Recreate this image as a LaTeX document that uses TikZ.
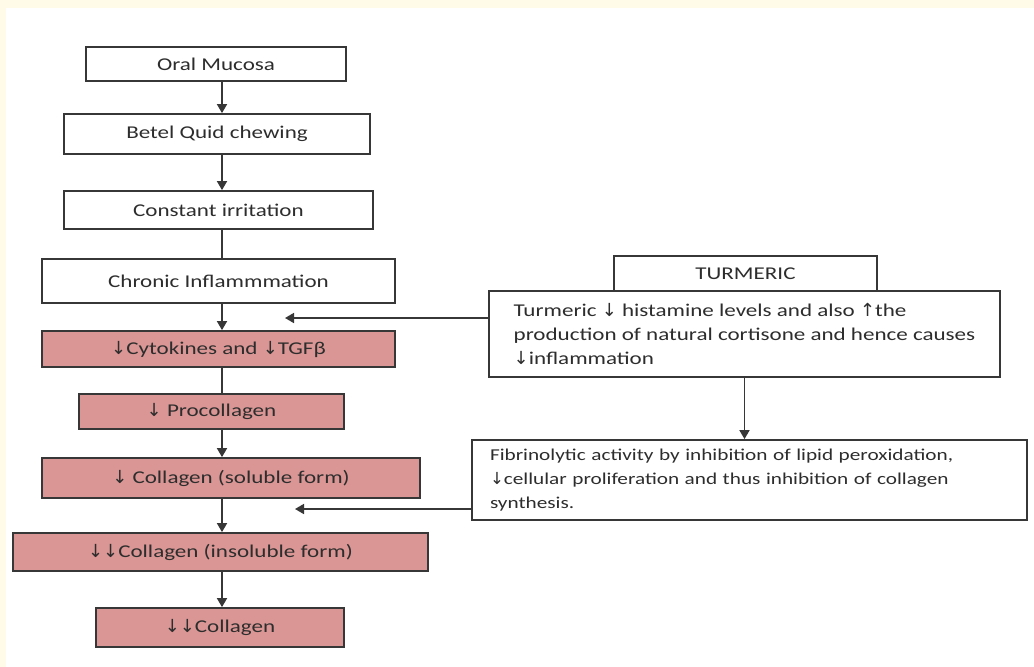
\documentclass[tikz,border=0pt]{standalone}
\usepackage{fontspec}
\setmainfont{Carlito}[FakeStretch=1.28]
\newfontfamily\symf{DejaVu Sans}
\usetikzlibrary{arrows.meta}
\newcommand\dn{{\symf ↓}}
\newcommand\up{{\symf ↑}}
\definecolor{paper}{RGB}{255,251,232}
\definecolor{linec}{RGB}{55,55,55}
\definecolor{textc}{RGB}{45,45,45}
\definecolor{pinkc}{RGB}{217,150,148}
\tikzset{
  box/.style={draw=linec, line width=1.8pt, fill=white, inner sep=0pt,
    text=textc, font=\fontsize{18}{24}\selectfont},
  pinkbox/.style={box, fill=pinkc},
  flow/.style={draw=linec, line width=1.7pt},
  arr/.style={flow, -{Triangle[width=10pt,length=9pt]}}
}
\begin{document}
\begin{tikzpicture}[x=1pt,y=-1pt]
  % page background with white drawing area
  \fill[paper] (0,0) rectangle (1034,667);
  \fill[white] (6,8) rectangle (1034,667);
  \useasboundingbox (0,0) rectangle (1034,667);

  % left column
  \node[box, minimum width=260pt, minimum height=34pt] (oral) at (216,64) {Oral Mucosa};
  \node[box, minimum width=306pt, minimum height=40pt] (betel) at (217,134) {Betel Quid chewing};
  \node[box, minimum width=309pt, minimum height=38pt] (const) at (218.5,210) {Constant irritation};
  \node[box, minimum width=353pt, minimum height=44pt] (chron) at (218.5,281) {Chronic Inflammmation};
  \node[pinkbox, minimum width=353pt, minimum height=36pt] (cyto) at (218.5,349) {\dn Cytokines and \dn TGFβ};
  \node[pinkbox, minimum width=265pt, minimum height=35pt] (proc) at (211.5,411.5) {\dn\ Procollagen};
  \node[pinkbox, minimum width=378pt, minimum height=40pt] (sol) at (231,478) {\dn\ Collagen (soluble form)};
  \node[pinkbox, minimum width=415pt, minimum height=38pt] (insol) at (220.5,552) {\dn\dn Collagen (insoluble form)};
  \node[pinkbox, minimum width=248pt, minimum height=39pt] (coll) at (220,627.5) {\dn\dn Collagen};

  % right column
  \node[box, minimum width=263pt, minimum height=35pt] (turm) at (745.5,273.5) {TURMERIC};
  \node[box, minimum width=511pt, minimum height=86pt, align=left] (ttext) at (744.5,334)
    {Turmeric \dn\ histamine levels and also \up the\\
     production of natural cortisone and hence causes\\
     \dn inflammation};
  \node[box, minimum height=80pt, text width=519pt, inner xsep=18pt, align=left,
        font=\fontsize{16.6}{24}\selectfont] (fib) at (749.5,480)
    {Fibrinolytic activity by inhibition of lipid peroxidation,\\
     \dn cellular proliferation and thus inhibition of collagen\\
     synthesis.};

  % connectors
  \coordinate (spine) at (222,0);
  \draw[arr] (oral.south -| spine) -- (betel.north -| spine);
  \draw[arr] (betel.south -| spine) -- (const.north -| spine);
  \draw[flow] (const.south -| spine) -- (chron.north -| spine);
  \draw[arr] (chron.south -| spine) -- (cyto.north -| spine);
  \draw[flow] (cyto.south -| spine) -- (proc.north -| spine);
  \draw[arr] (proc.south -| spine) -- (sol.north -| spine);
  \draw[arr] (sol.south -| spine) -- (insol.north -| spine);
  \draw[arr] (insol.south -| spine) -- (coll.north -| spine);

  \coordinate (tipA) at (285,318);
  \coordinate (tipB) at (295,509);
  \draw[arr] (tipA -| ttext.west) -- (tipA);
  \draw[arr] (tipB -| fib.west) -- (tipB);
  \draw[arr] (ttext.south) -- (ttext.south |- fib.north);
\end{tikzpicture}
\end{document}
